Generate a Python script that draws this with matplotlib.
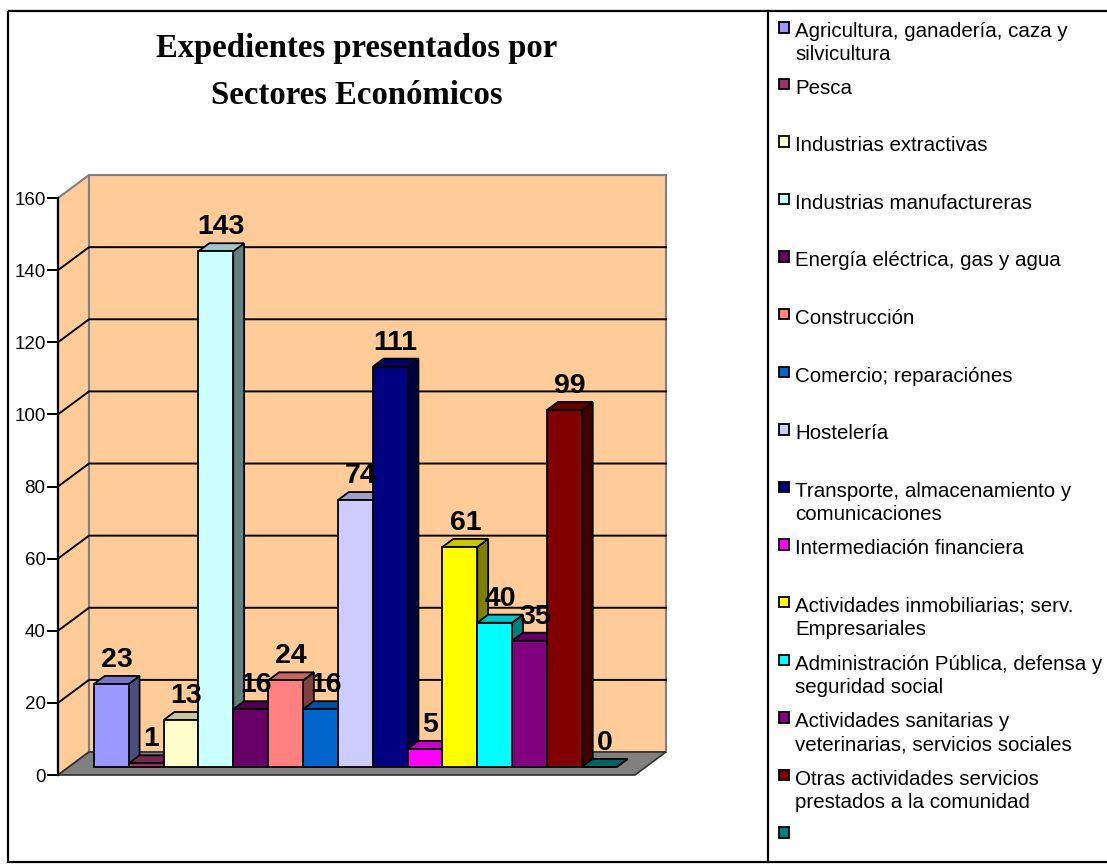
import matplotlib.pyplot as plt
from matplotlib.patches import Polygon, Rectangle
from matplotlib.colors import to_rgb
import numpy as np

sectores = [
    "Agricultura, ganadería, caza y\nsilvicultura",
    "Pesca",
    "Industrias extractivas",
    "Industrias manufactureras",
    "Energía eléctrica, gas y agua",
    "Construcción",
    "Comercio; reparaciónes",
    "Hostelería",
    "Transporte, almacenamiento y\ncomunicaciones",
    "Intermediación financiera",
    "Actividades inmobiliarias; serv.\nEmpresariales",
    "Administración Pública, defensa y\nseguridad social",
    "Actividades sanitarias y\nveterinarias, servicios sociales",
    "Otras actividades servicios\nprestados a la comunidad",
    "",
]
expedientes = [23, 1, 13, 143, 16, 24, 16, 74, 111, 5, 61, 40, 35, 99, 0]
colores = ["#9999FF", "#993366", "#FFFFCC", "#CCFFFF", "#660066", "#FF8080",
           "#0066CC", "#CCCCFF", "#000080", "#FF00FF", "#FFFF00", "#00FFFF",
           "#800080", "#800000", "#008080"]
yticks = [0, 20, 40, 60, 80, 100, 120, 140, 160]
titulo = ["Expedientes presentados por", "Sectores Económicos"]

W, H = 1107, 865
fig = plt.figure(figsize=(W / 100, H / 100), dpi=100)

# pixel overlay for frames, title and legend
lay = fig.add_axes([0, 0, 1, 1])
lay.set_xlim(0, W)
lay.set_ylim(H, 0)
lay.axis('off')
lay.add_patch(Rectangle((8, 11), 1200, 851, fill=False, ec='black', lw=1.6))
lay.plot([768, 768], [11, 862], color='black', lw=1.6)

# chart axes, scaled so that one bar slot / one unit match the picture
sx, sy = 34.86, 3.606
x0, y0 = 58, 775
xlim, ylim = (-1.5, 20.0), (-24, 200)
ax = fig.add_axes([(x0 + xlim[0] * sx) / W,
                   (H - y0 + ylim[0] * sy) / H,
                   (xlim[1] - xlim[0]) * sx / W,
                   (ylim[1] - ylim[0]) * sy / H])
ax.set_xlim(*xlim)
ax.set_ylim(*ylim)
ax.patch.set_visible(False)

DX, DY = 31 / sx, 23 / sy          # full depth of the box
XF = 16.55                          # floor / wall width
bx0 = 0.717                         # first bar at depth 0
d0, d1 = 0.35, 0.70                 # bar depth range
ymax = yticks[-1]


def p(x, y, d):
    return (x + d * DX, y + d * DY)


def shade(c, f):
    return tuple(np.array(to_rgb(c)) * f)


wall = "#FFCC99"
# side wall and back wall
ax.add_patch(Polygon([p(0, 0, 0), p(0, ymax, 0), p(0, ymax, 1), p(0, 0, 1)],
                     fc=wall, ec='#808080', lw=1.5, zorder=1))
ax.add_patch(Polygon([p(0, 0, 1), p(0, ymax, 1), p(XF, ymax, 1), p(XF, 0, 1)],
                     fc=wall, ec='#808080', lw=1.5, zorder=1))
for v in yticks[1:-1]:
    xs, ys = zip(p(0, v, 0), p(0, v, 1), p(XF, v, 1))
    ax.plot(xs, ys, color='black', lw=1.4, zorder=2)
# floor
ax.add_patch(Polygon([p(0, 0, 0), p(XF, 0, 0), p(XF, 0, 1), p(0, 0, 1)],
                     fc='#808080', ec='#303030', lw=1.2, zorder=3))

# bars, left to right so the next bar hides the side of the previous one
for i, (v, c) in enumerate(zip(expedientes, colores)):
    xl, xr = bx0 + i, bx0 + i + 1
    z = 10 + 3 * i
    ax.add_patch(Polygon([p(xr, 0, d0), p(xr, v, d0), p(xr, v, d1), p(xr, 0, d1)],
                         fc=shade(c, 0.5), ec='black', lw=1.3, zorder=z))
    ax.add_patch(Polygon([p(xl, v, d0), p(xr, v, d0), p(xr, v, d1), p(xl, v, d1)],
                         fc=shade(c, 0.78), ec='black', lw=1.3, zorder=z + 1))
    ax.bar(xl + d0 * DX, v, width=1, bottom=d0 * DY, align='edge',
           color=c, edgecolor='black', lw=1.3, zorder=z + 2)
    cx, cy = p(xl + 0.5, v, d1)
    ax.text(cx + (d0 + d1) / 2 * DX - d1 * DX, cy + 2.5, str(v),
            ha='center', va='baseline', fontsize=20.5, fontweight='bold',
            family='Liberation Sans', zorder=100)

# front value axis
for s in ['top', 'right', 'bottom']:
    ax.spines[s].set_visible(False)
ax.spines['left'].set_position(('data', 0))
ax.spines['left'].set_bounds(0, ymax)
ax.spines['left'].set_linewidth(1.6)
ax.spines['left'].set_zorder(5)
ax.set_xticks([])
ax.set_yticks(yticks)
ax.tick_params(axis='y', direction='out', length=8, width=1.4, pad=1,
               labelsize=13.5)
for t in ax.get_yticklabels():
    t.set_family('Liberation Sans')

# title
for k, line in enumerate(titulo):
    lay.text(357, 57 + 47.5 * k, line, ha='center', va='baseline',
             fontsize=23.6, fontweight='bold', family='Liberation Serif')

# legend
for i, (name, c) in enumerate(zip(sectores, colores)):
    base = 37 + 57.6 * i if i == 0 else 93.5 + 57.6 * (i - 1)
    lay.add_patch(Rectangle((778.5, base - 15), 10.5, 10.5, fc=c, ec='black', lw=1.3))
    for k, line in enumerate(name.split('\n')):
        lay.text(795, base + 23.3 * k, line, ha='left', va='baseline',
                 fontsize=14.8, family='Liberation Sans')

fig.savefig('out.png', dpi=100)
